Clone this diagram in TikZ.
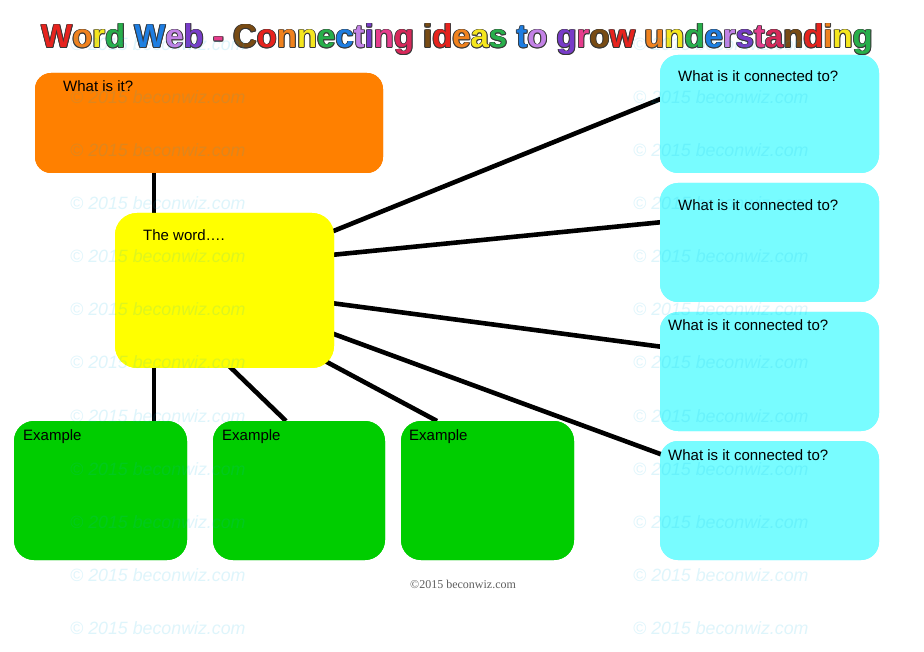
\documentclass[tikz,border=0pt]{standalone}
\usepackage{fontspec}
\setmainfont{Liberation Sans}
\newfontfamily\titlefont[Kerning=Off]{Liberation Sans}
\newfontfamily\creditfont{Liberation Serif}
\usetikzlibrary{calc}
\definecolor{cOrange}{RGB}{255,128,0}
\definecolor{cYellow}{RGB}{255,255,0}
\definecolor{cGreen}{RGB}{0,205,0}
\definecolor{cCyan}{RGB}{120,252,255}
\definecolor{wmc}{RGB}{0,180,230}
\definecolor{creditc}{RGB}{95,95,95}
\definecolor{tRed}{RGB}{230,35,30}
\definecolor{tOrange}{RGB}{240,130,30}
\definecolor{tYellow}{RGB}{245,230,30}
\definecolor{tGreen}{RGB}{40,175,75}
\definecolor{tBlue}{RGB}{30,125,225}
\definecolor{tLav}{RGB}{195,130,230}
\definecolor{tPurple}{RGB}{120,60,200}
\definecolor{tPink}{RGB}{230,60,140}
\definecolor{tMag}{RGB}{215,40,90}
\definecolor{tBrown}{RGB}{120,75,20}
\definecolor{tOutline}{RGB}{55,55,55}
\newcommand\TL[2]{\textcolor{#1}{#2}}
\newcommand\TitleText{%
\TL{tRed}{W}\TL{tOrange}{o}\TL{tYellow}{r}\TL{tGreen}{d} \TL{tBlue}{W}\TL{tLav}{e}\TL{tPurple}{b} \TL{tPink}{-} %
\TL{tBrown}{C}\TL{tRed}{o}\TL{tOrange}{n}\TL{tYellow}{n}\TL{tGreen}{e}\TL{tBlue}{c}\TL{tLav}{t}\TL{tPurple}{i}\TL{tPink}{n}\TL{tMag}{g} %
\TL{tBrown}{i}\TL{tRed}{d}\TL{tOrange}{e}\TL{tYellow}{a}\TL{tGreen}{s} \TL{tBlue}{t}\TL{tLav}{o} %
\TL{tPurple}{g}\TL{tPink}{r}\TL{tBrown}{o}\TL{tRed}{w} %
\TL{tOrange}{u}\TL{tYellow}{n}\TL{tGreen}{d}\TL{tBlue}{e}\TL{tLav}{r}\TL{tPurple}{s}\TL{tPink}{t}\TL{tMag}{a}\TL{tBrown}{n}\TL{tRed}{d}\TL{tOrange}{i}\TL{tYellow}{n}\TL{tGreen}{g}}
\newcommand\OutlineText{{\renewcommand\TL[2]{\textcolor{tOutline}{##2}}\TitleText}}
\begin{document}
\begin{tikzpicture}[x=1pt,y=-1pt,
  box/.style={rectangle, rounded corners=16pt, inner sep=0pt, outer sep=0pt, anchor=north west, draw=none},
  conn/.style={line width=4.6pt, black},
  lbl/.style={anchor=base west, inner sep=0pt, font=\fontsize{15}{18}\selectfont, text=black},
  ttl/.style={anchor=base west, inner sep=0pt, font=\titlefont\bfseries\fontsize{32.9}{36}\selectfont},
  wm/.style={anchor=base west, inner sep=0pt, font=\itshape\fontsize{17.8}{20}\selectfont, text=wmc, text opacity=0.13},
  credit/.style={anchor=base west, inner sep=0pt, font=\creditfont\fontsize{12}{14}\selectfont, text=creditc}]
\useasboundingbox (0,0) rectangle (924,652);
\fill[white] (0,0) rectangle (924,652);

% boxes
\path (35,73) node[box, fill=cOrange, minimum width=348pt, minimum height=100pt] (what) {};
\path (115,213) node[box, fill=cYellow, minimum width=219pt, minimum height=155pt, rounded corners=22pt] (yel) {};
\path (14,421) node[box, fill=cGreen, minimum width=173pt, minimum height=139pt, rounded corners=20pt] (g1) {};
\path (213,421) node[box, fill=cGreen, minimum width=172pt, minimum height=139pt, rounded corners=20pt] (g2) {};
\path (401,421) node[box, fill=cGreen, minimum width=173pt, minimum height=139pt, rounded corners=20pt] (g3) {};
\path (660,55) node[box, fill=cCyan, minimum width=219pt, minimum height=118pt, rounded corners=18pt] (c1) {};
\path (660,183) node[box, fill=cCyan, minimum width=219pt, minimum height=119pt, rounded corners=18pt] (c2) {};
\path (660,312) node[box, fill=cCyan, minimum width=219pt, minimum height=119pt, rounded corners=18pt] (c3) {};
\path (660,441) node[box, fill=cCyan, minimum width=219pt, minimum height=119pt, rounded corners=18pt] (c4) {};

% connectors
\draw[conn] ($(what.south west)+(119,-2)$) -- ($(yel.north west)+(39,2)$);
\draw[conn] ($(yel.south west)+(39,-2)$) -- ($(g1.north west)+(140,2)$);
\draw[conn] ($(yel.south west)+(111,-5)$) -- ($(g2.north west)+(73,0)$);
\draw[conn] ($(yel.south east)+(-24,-15)$) -- ($(g3.north west)+(36,0)$);
\draw[conn] ($(yel.north east)+(-3,19)$) -- ($(c1.north west)+(3,43)$);
\draw[conn] ($(yel.north east)+(-3,42)$) -- ($(c2.north west)+(3,39)$);
\draw[conn] ($(yel.north east)+(-3,90)$) -- ($(c3.north west)+(3,35)$);
\draw[conn] ($(yel.north east)+(-3,120)$) -- ($(c4.north west)+(3,14)$);

% redraw boxes on top of connector ends
\fill[cOrange, rounded corners=16pt] (what.north west) rectangle (what.south east);
\fill[cYellow, rounded corners=22pt] (yel.north west) rectangle (yel.south east);
\foreach \g in {g1,g2,g3} \fill[cGreen, rounded corners=20pt] (\g.north west) rectangle (\g.south east);
\foreach \c in {c1,c2,c3,c4} \fill[cCyan, rounded corners=18pt] (\c.north west) rectangle (\c.south east);

% labels
\node[lbl] (twhat) at (63,92) {What is it?};
\node[lbl] (tword) at (143,241) {The word….};
\node[lbl] (te1) at (23,440) {Example};
\node[lbl] (te2) at (222,440) {Example};
\node[lbl] (te3) at (409,440) {Example};
\node[lbl] (tc1) at (678,82) {What is it connected to?};
\node[lbl] (tc2) at (678,211) {What is it connected to?};
\node[lbl] (tc3) at (668,331) {What is it connected to?};
\node[lbl] (tc4) at (668,460) {What is it connected to?};

% title with outline
\foreach \dx/\dy in {-0.9/0,0.9/0,0/-0.9,0/0.9,-0.65/-0.65,0.65/-0.65,-0.65/0.65,0.65/0.65}
  \node[ttl] at (41+\dx,48+\dy) {\OutlineText};
\node[ttl] (title) at (41,48) {\TitleText};

% credit
\node[credit] (cred) at (410,588) {©2015 beconwiz.com};

% watermarks
\foreach \yy in {51,104,157,210,263,316,369,422,475,528,581,634} {
  \node[wm] at (70,\yy) {© 2015 beconwiz.com};
  \node[wm] at (633,\yy) {© 2015 beconwiz.com};
}
\end{tikzpicture}
\end{document}
